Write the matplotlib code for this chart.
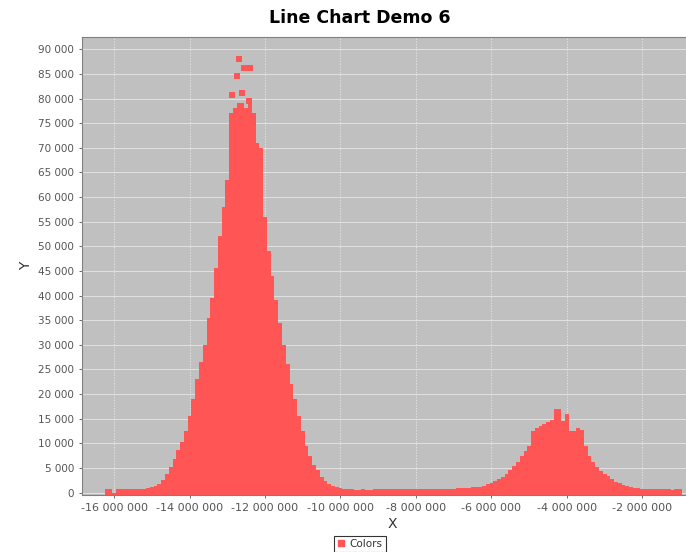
import numpy as np
import matplotlib.pyplot as plt
from matplotlib.ticker import FuncFormatter, MultipleLocator
from matplotlib.lines import Line2D

# bins of 0.1 million along X, starting at -16.2 million
bin_start = -16.2
bin_step = 0.1

# top of the dense band in each bin (thousands)
heights_k = [
    0.7, 0.7, 0.0, 0.7, 0.7, 0.7, 0.7, 0.8, 0.8, 0.8,
    0.8, 0.9, 1.1, 1.3, 1.8, 2.6, 3.8, 5.2, 6.8, 8.6,
    10.3, 12.5, 15.5, 19.0, 23.0, 26.5, 30.0, 35.5, 39.5, 45.5,
    52.0, 58.0, 63.5, 77.0, 78.0, 79.0, 79.0, 78.0, 80.0, 77.0,
    71.0, 70.0, 56.0, 49.0, 44.0, 39.0, 34.5, 30.0, 26.0, 22.0,
    19.0, 15.5, 12.5, 9.5, 7.5, 5.5, 4.5, 3.2, 2.4, 1.8,
    1.4, 1.1, 0.9,
    # flat stretch -9.9 .. -6.4
    0.8, 0.7, 0.7, 0.6, 0.6, 0.7, 0.6, 0.6, 0.7, 0.7,
    0.7, 0.8, 0.8, 0.8, 0.7, 0.8, 0.8, 0.7, 0.7, 0.8,
    0.8, 0.8, 0.7, 0.7, 0.8, 0.7, 0.7, 0.8, 0.8, 0.8,
    0.9, 0.9, 1.0, 1.0, 1.1, 1.2,
    # second bump -6.3 .. -1.0
    1.2, 1.4, 1.7, 2.0, 2.3, 2.8, 3.2, 3.7, 4.6, 5.3,
    6.1, 7.4, 8.4, 9.5, 12.5, 13.2, 13.6, 14.0, 14.4, 14.8,
    17.0, 17.0, 14.5, 16.0, 12.4, 12.5, 13.1, 12.8, 9.5, 7.5,
    6.2, 5.2, 4.4, 3.8, 3.3, 2.7, 2.2, 1.9, 1.6, 1.4,
    1.2, 1.0, 0.9, 0.8, 0.8, 0.7, 0.7, 0.7, 0.7, 0.7,
    0.7, 0.6, 0.7, 0.7,
]

# loose points above the main peak (millions, thousands)
outlier_x = [-12.69, -12.55, -12.40, -12.74, -12.87, -12.61, -12.42]
outlier_y = [88.1, 86.3, 86.3, 84.5, 80.8, 81.2, 79.6]

red = '#ff5555'
ymin = -500

fig = plt.figure(figsize=(6.86, 5.52), dpi=100)
# original chart was a bit wider, right side is cut off
ax = fig.add_axes([82/686, 1 - 495/552, (702 - 82)/686, (495 - 37)/552])
ax.set_facecolor('#c0c0c0')

x = (bin_start + bin_step*np.arange(len(heights_k))) * 1e6
h = np.array(heights_k) * 1000
ax.bar(x, h - ymin, bottom=ymin, width=bin_step*1e6, color=red, linewidth=0, zorder=2)
ax.plot(np.array(outlier_x)*1e6, np.array(outlier_y)*1000, 's', color=red,
        markersize=4.5, markeredgewidth=0, zorder=3)

ax.set_xlim(-16.85e6, -0.42e6)
ax.set_ylim(ymin, 92500)

fmt = FuncFormatter(lambda v, p: '{:,.0f}'.format(v).replace(',', ' '))
ax.xaxis.set_major_locator(MultipleLocator(2e6))
ax.yaxis.set_major_locator(MultipleLocator(5000))
ax.xaxis.set_major_formatter(fmt)
ax.yaxis.set_major_formatter(fmt)
ax.tick_params(labelsize=7.5, colors='#555555', length=2, width=0.6)
ax.tick_params(axis='x', labelsize=8)

ax.set_axisbelow(True)
ax.grid(axis='y', color='#eeeeee', linewidth=0.5, zorder=1)
ax.grid(axis='x', color='#eeeeee', linewidth=0.5, linestyle=(0, (2, 2)), zorder=1)

for s in ax.spines.values():
    s.set_color('#808080')
    s.set_linewidth(0.8)

ax.set_xlabel('X', fontsize=10, color='#333333', labelpad=3)
ax.set_ylabel('Y', fontsize=10, color='#333333', labelpad=4)

fig.text(360/686, 1 - 18/552, 'Line Chart Demo 6', ha='center', va='center',
         fontsize=12.5, fontweight='bold')

handle = Line2D([], [], marker='s', color=red, linestyle='none', markersize=4.5)
leg = fig.legend([handle], ['Colors'], loc='upper center',
                 bbox_to_anchor=(360/686, 1 - 536/552), fontsize=7.5,
                 frameon=True, fancybox=False, handlelength=0.8,
                 handletextpad=0.4, borderpad=0.3, borderaxespad=0)
leg.get_frame().set_edgecolor('black')
leg.get_frame().set_linewidth(0.8)
for t in leg.get_texts():
    t.set_color('#333333')

fig.savefig('out.png', dpi=100)
